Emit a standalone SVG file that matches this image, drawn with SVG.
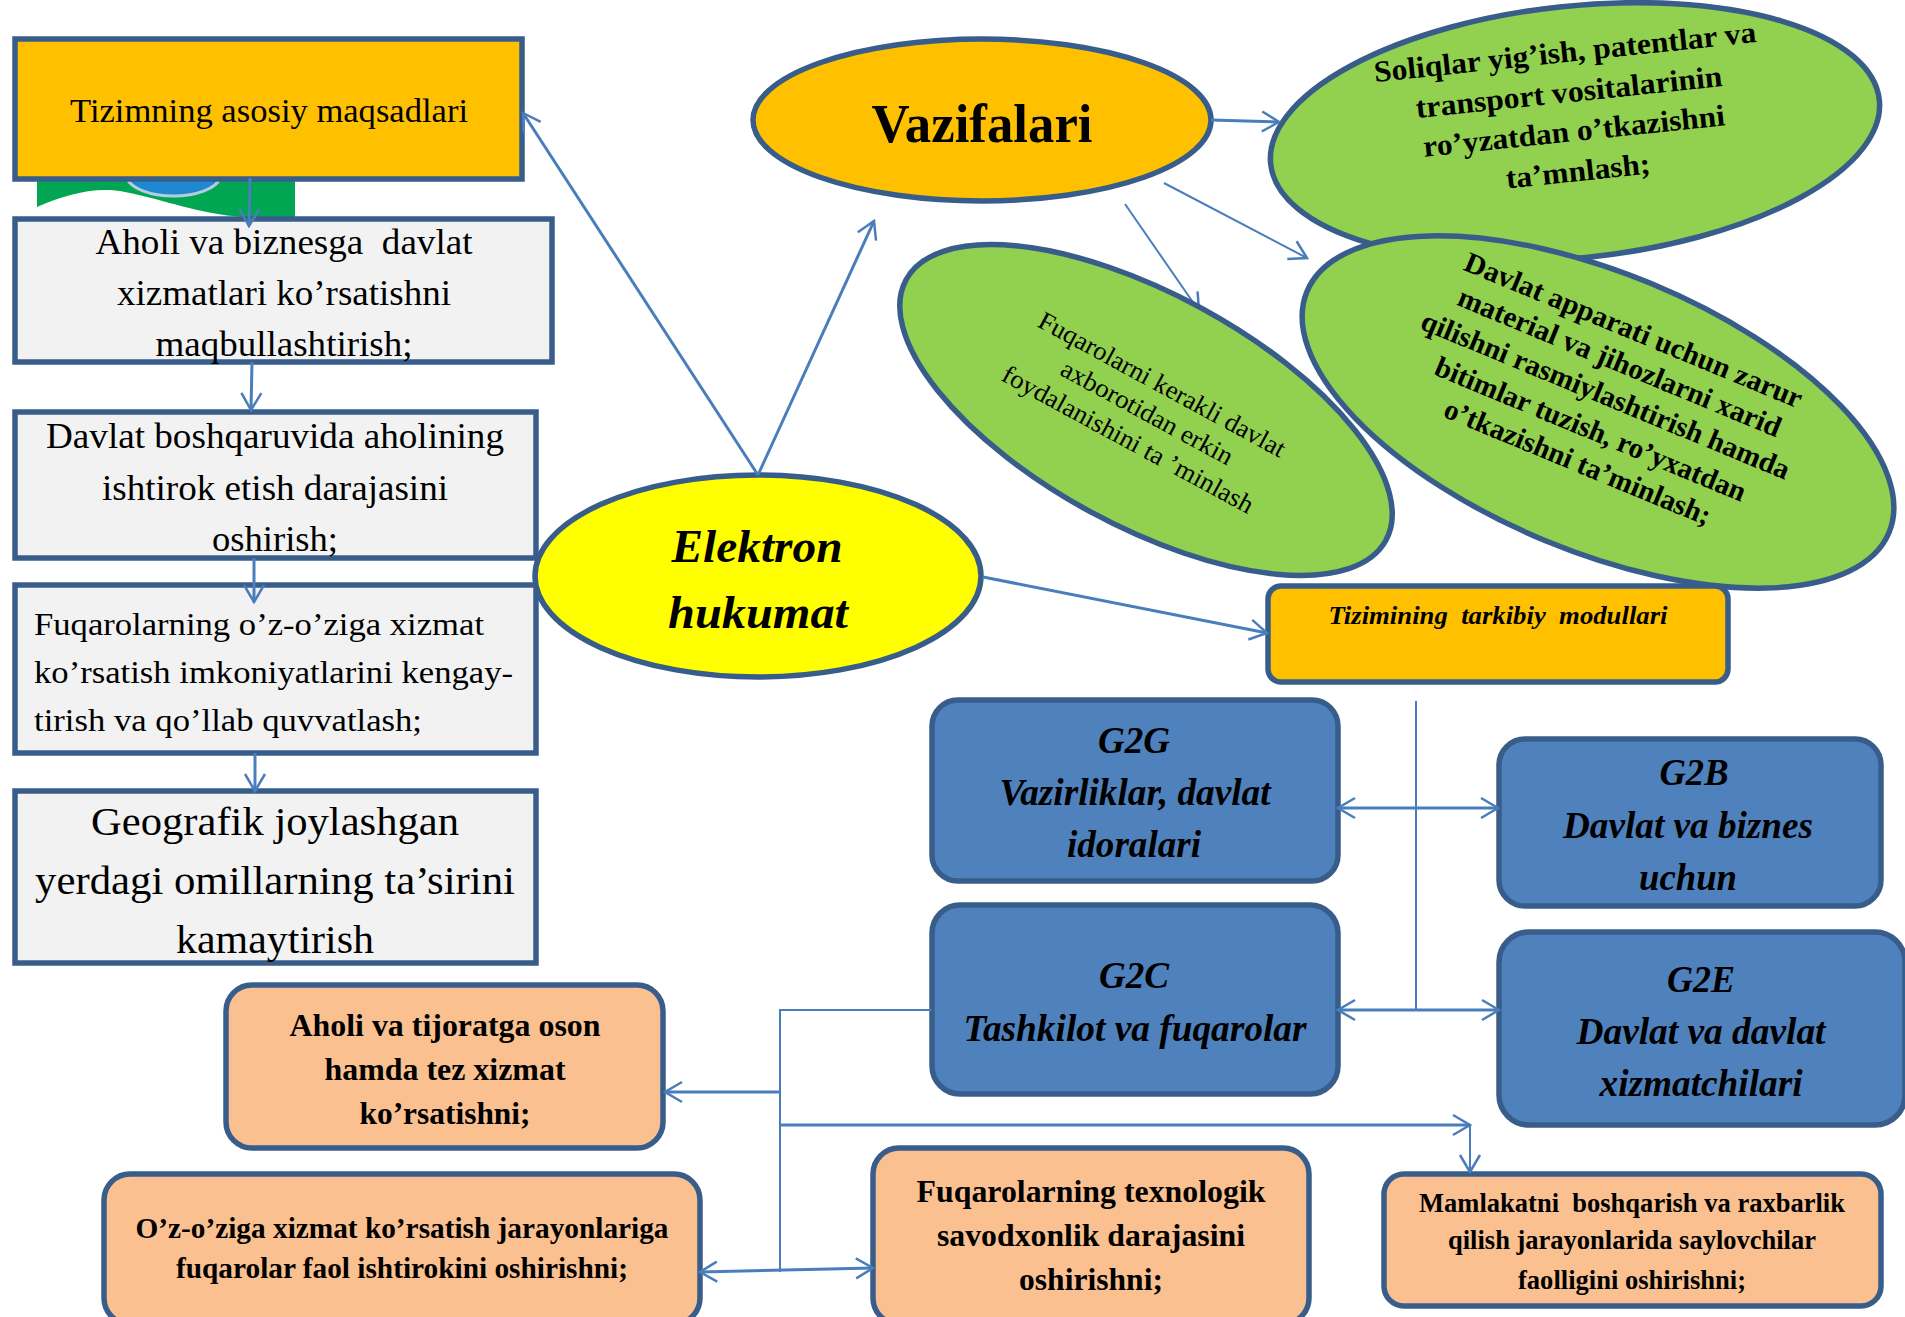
<svg xmlns="http://www.w3.org/2000/svg" width="1905" height="1317" viewBox="0 0 1905 1317">
<style>
text{font-family:"Liberation Serif","Times New Roman",serif;fill:#000;white-space:pre}
.m{text-anchor:middle}
.b{font-weight:bold}
.i{font-style:italic}
.n{stroke:#385D8A;stroke-width:5.5}
.or{fill:#FFC000}.gy{fill:#F2F2F2}.gr{fill:#92D050}.bl{fill:#4F81BD}.pe{fill:#FAC090}.ye{fill:#FFFF00}
.c{fill:none;stroke:#4A7EBB;stroke-width:2}
.t{stroke-width:3}
.e{marker-end:url(#a)}
.s{marker-start:url(#a)}
</style>
<defs>
<marker id="a" markerUnits="userSpaceOnUse" markerWidth="40" markerHeight="40" viewBox="-30 -20 40 40" refX="0" refY="0" orient="auto-start-reverse">
<path d="M-17,-10 L0,0 L-17,10" fill="none" stroke="#4A7EBB" stroke-width="2.5"/>
</marker>
</defs>
<g id="picture">
<path d="M37,178 H295 V217 H243 C200,214 165,200 125,192 C95,186 65,195 37,207 Z" fill="#00A651"/>
<path d="M127,178 A47,21 0 0 0 220,178 Z" fill="#1E88D0" stroke="#B8CCE0" stroke-width="3"/>
</g>
<g id="box-maqsad"><rect class="n or" x="15" y="39" width="507" height="140"/>
<text class="m" x="269" y="122" font-size="34" textLength="398" lengthAdjust="spacingAndGlyphs">Tizimning asosiy maqsadlari</text></g>
<g id="box-aholi"><rect class="n gy" x="15" y="219" width="537" height="143"/>
<text class="m" x="284" y="254" font-size="35" textLength="377" lengthAdjust="spacingAndGlyphs">Aholi va biznesga  davlat</text>
<text class="m" x="284" y="305" font-size="35" textLength="334" lengthAdjust="spacingAndGlyphs">xizmatlari ko’rsatishni</text>
<text class="m" x="284" y="356" font-size="35" textLength="257" lengthAdjust="spacingAndGlyphs">maqbullashtirish;</text></g>
<g id="box-davlat"><rect class="n gy" x="15" y="412" width="521" height="146"/>
<text class="m" x="275" y="448" font-size="35" textLength="458" lengthAdjust="spacingAndGlyphs">Davlat boshqaruvida aholining</text>
<text class="m" x="275" y="500" font-size="35" textLength="346" lengthAdjust="spacingAndGlyphs">ishtirok etish darajasini</text>
<text class="m" x="275" y="551" font-size="35" textLength="126" lengthAdjust="spacingAndGlyphs">oshirish;</text></g>
<g id="box-fuqaro"><rect class="n gy" x="15" y="585" width="521" height="168"/>
<text x="34" y="635" font-size="32" textLength="450" lengthAdjust="spacingAndGlyphs">Fuqarolarning o’z-o’ziga xizmat</text>
<text x="34" y="683" font-size="32" textLength="479" lengthAdjust="spacingAndGlyphs">ko’rsatish imkoniyatlarini kengay-</text>
<text x="34" y="731" font-size="32" textLength="388" lengthAdjust="spacingAndGlyphs">tirish va qo’llab quvvatlash;</text></g>
<g id="box-geografik"><rect class="n gy" x="15" y="791" width="521" height="172"/>
<text class="m" x="275" y="835" font-size="41" textLength="368" lengthAdjust="spacingAndGlyphs">Geografik joylashgan</text>
<text class="m" x="275" y="894" font-size="41" textLength="480" lengthAdjust="spacingAndGlyphs">yerdagi omillarning ta’sirini</text>
<text class="m" x="275" y="953" font-size="41" textLength="198" lengthAdjust="spacingAndGlyphs">kamaytirish</text></g>
<g id="node-elektron"><ellipse class="n ye" cx="758" cy="576" rx="223" ry="101"/>
<text class="m b i" x="757" y="562" font-size="47" textLength="171" lengthAdjust="spacingAndGlyphs">Elektron</text>
<text class="m b i" x="758" y="628" font-size="47" textLength="180" lengthAdjust="spacingAndGlyphs">hukumat</text></g>
<g id="node-vazifalari"><ellipse class="n or" cx="982" cy="120" rx="229" ry="81"/>
<text class="m b" x="982" y="142" font-size="54" textLength="221" lengthAdjust="spacingAndGlyphs">Vazifalari</text></g>
<g id="node-soliq"><ellipse class="n gr" cx="0" cy="0" rx="306" ry="126" transform="translate(1575 132) rotate(-6)"/>
<text class="m b" font-size="30" textLength="384" lengthAdjust="spacingAndGlyphs" transform="translate(1566 62) rotate(-6)">Soliqlar yig’ish, patentlar va</text>
<text class="m b" font-size="30" textLength="308" lengthAdjust="spacingAndGlyphs" transform="translate(1570 102) rotate(-6)">transport vositalarinin</text>
<text class="m b" font-size="30" textLength="303" lengthAdjust="spacingAndGlyphs" transform="translate(1575 141) rotate(-6)">ro’yzatdan o’tkazishni</text>
<text class="m b" font-size="30" textLength="145" lengthAdjust="spacingAndGlyphs" transform="translate(1579 181) rotate(-6)">ta’mnlash;</text></g>
<g id="node-apparat"><ellipse class="n gr" cx="0" cy="0" rx="315" ry="139" transform="translate(1598 412) rotate(22.5)"/>
<text class="m b" font-size="29" textLength="363" lengthAdjust="spacingAndGlyphs" transform="translate(1630 339) rotate(22.5)">Davlat apparati uchun zarur</text>
<text class="m b" font-size="29" textLength="347" lengthAdjust="spacingAndGlyphs" transform="translate(1616 371) rotate(22.5)">material va jihozlarni xarid</text>
<text class="m b" font-size="29" textLength="396" lengthAdjust="spacingAndGlyphs" transform="translate(1602 404) rotate(22.5)">qilishni rasmiylashtirish hamda</text>
<text class="m b" font-size="29" textLength="334" lengthAdjust="spacingAndGlyphs" transform="translate(1587 438) rotate(22.5)">bitimlar tuzish, ro’yxatdan</text>
<text class="m b" font-size="29" textLength="286" lengthAdjust="spacingAndGlyphs" transform="translate(1574 471) rotate(22.5)">o’tkazishni ta’minlash;</text></g>
<g id="node-moduli"><rect class="n or" x="1268" y="586" width="460" height="96" rx="13"/>
<text class="m b i" x="1498" y="624" font-size="26" textLength="339" lengthAdjust="spacingAndGlyphs">Tizimining  tarkibiy  modullari</text></g>
<g id="node-g2g"><rect class="n bl" x="932" y="700" width="406" height="181" rx="26"/>
<text class="m b i" x="1134" y="753" font-size="37" textLength="72" lengthAdjust="spacingAndGlyphs">G2G</text>
<text class="m b i" x="1135" y="805" font-size="37" textLength="271" lengthAdjust="spacingAndGlyphs">Vazirliklar, davlat</text>
<text class="m b i" x="1134" y="857" font-size="37" textLength="134" lengthAdjust="spacingAndGlyphs">idoralari</text></g>
<g id="node-g2b"><rect class="n bl" x="1499" y="739" width="382" height="167" rx="26"/>
<text class="m b i" x="1694" y="785" font-size="37" textLength="69" lengthAdjust="spacingAndGlyphs">G2B</text>
<text class="m b i" x="1688" y="838" font-size="37" textLength="250" lengthAdjust="spacingAndGlyphs">Davlat va biznes</text>
<text class="m b i" x="1688" y="890" font-size="37" textLength="98" lengthAdjust="spacingAndGlyphs">uchun</text></g>
<g id="node-g2c"><rect class="n bl" x="932" y="905" width="406" height="189" rx="28"/>
<text class="m b i" x="1134" y="988" font-size="37" textLength="70" lengthAdjust="spacingAndGlyphs">G2C</text>
<text class="m b i" x="1135" y="1041" font-size="37" textLength="343" lengthAdjust="spacingAndGlyphs">Tashkilot va fuqarolar</text></g>
<g id="node-g2e"><rect class="n bl" x="1499" y="932" width="406" height="193" rx="30"/>
<text class="m b i" x="1701" y="992" font-size="37" textLength="68" lengthAdjust="spacingAndGlyphs">G2E</text>
<text class="m b i" x="1701" y="1044" font-size="37" textLength="249" lengthAdjust="spacingAndGlyphs">Davlat va davlat</text>
<text class="m b i" x="1701" y="1096" font-size="37" textLength="203" lengthAdjust="spacingAndGlyphs">xizmatchilari</text></g>
<g id="node-tez"><rect class="n pe" x="226" y="985" width="437" height="163" rx="26"/>
<text class="m b" x="445" y="1036" font-size="32" textLength="311" lengthAdjust="spacingAndGlyphs">Aholi va tijoratga oson</text>
<text class="m b" x="445" y="1080" font-size="32" textLength="241" lengthAdjust="spacingAndGlyphs">hamda tez xizmat</text>
<text class="m b" x="445" y="1124" font-size="32" textLength="171" lengthAdjust="spacingAndGlyphs">ko’rsatishni;</text></g>
<g id="node-ozoziga"><rect class="n pe" x="104" y="1174" width="596" height="150" rx="26"/>
<text class="m b" x="402" y="1238" font-size="30" textLength="533" lengthAdjust="spacingAndGlyphs">O’z-o’ziga xizmat ko’rsatish jarayonlariga</text>
<text class="m b" x="402" y="1278" font-size="30" textLength="452" lengthAdjust="spacingAndGlyphs">fuqarolar faol ishtirokini oshirishni;</text></g>
<g id="node-savod"><rect class="n pe" x="873" y="1148" width="436" height="176" rx="26"/>
<text class="m b" x="1091" y="1202" font-size="32" textLength="349" lengthAdjust="spacingAndGlyphs">Fuqarolarning texnologik</text>
<text class="m b" x="1091" y="1246" font-size="32" textLength="308" lengthAdjust="spacingAndGlyphs">savodxonlik darajasini</text>
<text class="m b" x="1091" y="1290" font-size="32" textLength="144" lengthAdjust="spacingAndGlyphs">oshirishni;</text></g>
<g id="node-saylov"><rect class="n pe" x="1384" y="1174" width="497" height="132" rx="20"/>
<text class="m b" x="1632" y="1212" font-size="27" textLength="426" lengthAdjust="spacingAndGlyphs">Mamlakatni  boshqarish va raxbarlik</text>
<text class="m b" x="1632" y="1249" font-size="27" textLength="368" lengthAdjust="spacingAndGlyphs">qilish jarayonlarida saylovchilar</text>
<text class="m b" x="1632" y="1289" font-size="27" textLength="228" lengthAdjust="spacingAndGlyphs">faolligini oshirishni;</text></g>
<g id="connectors">
<path class="c t e" d="M250,178 L249,226"/>
<path class="c t e" d="M252,362 L251,410"/>
<path class="c t e" d="M254,558 L254,602"/>
<path class="c t e" d="M255,753 L255,791"/>
<path class="c t e" d="M758,475 L523,113"/>
<path class="c t e" d="M758,475 L874,221"/>
<path class="c t e" d="M983,577 L1267,633"/>
<path class="c t e" d="M1211,120 L1279,122"/>
<path class="c e" d="M1164,183 L1307,258"/>
<path class="c e" d="M1125,204 L1199,311"/>
<path class="c" d="M1416,701 V1011"/>
<path class="c t e s" d="M1338,808 H1498"/>
<path class="c t e s" d="M1338,1010 H1499"/>
<path class="c" d="M932,1010 H780 V1272"/>
<path class="c t e" d="M780,1092 H665"/>
<path class="c t e" d="M780,1125 H1470"/>
<path class="c e" d="M1470,1125 V1172"/>
<path class="c t e s" d="M700,1272 L873,1268"/>
</g>
<g id="node-axborot"><ellipse class="n gr" cx="0" cy="0" rx="273" ry="116" transform="translate(1146 410) rotate(28.5)"/>
<text class="m" font-size="26" textLength="277" lengthAdjust="spacingAndGlyphs" transform="translate(1158 392) rotate(28.5)">Fuqarolarni kerakli davlat</text>
<text class="m" font-size="26" textLength="192" lengthAdjust="spacingAndGlyphs" transform="translate(1143 420) rotate(28.5)">axborotidan erkin</text>
<text class="m" font-size="26" textLength="282" lengthAdjust="spacingAndGlyphs" transform="translate(1124 447) rotate(28.5)">foydalanishini ta ’minlash</text></g>
</svg>
